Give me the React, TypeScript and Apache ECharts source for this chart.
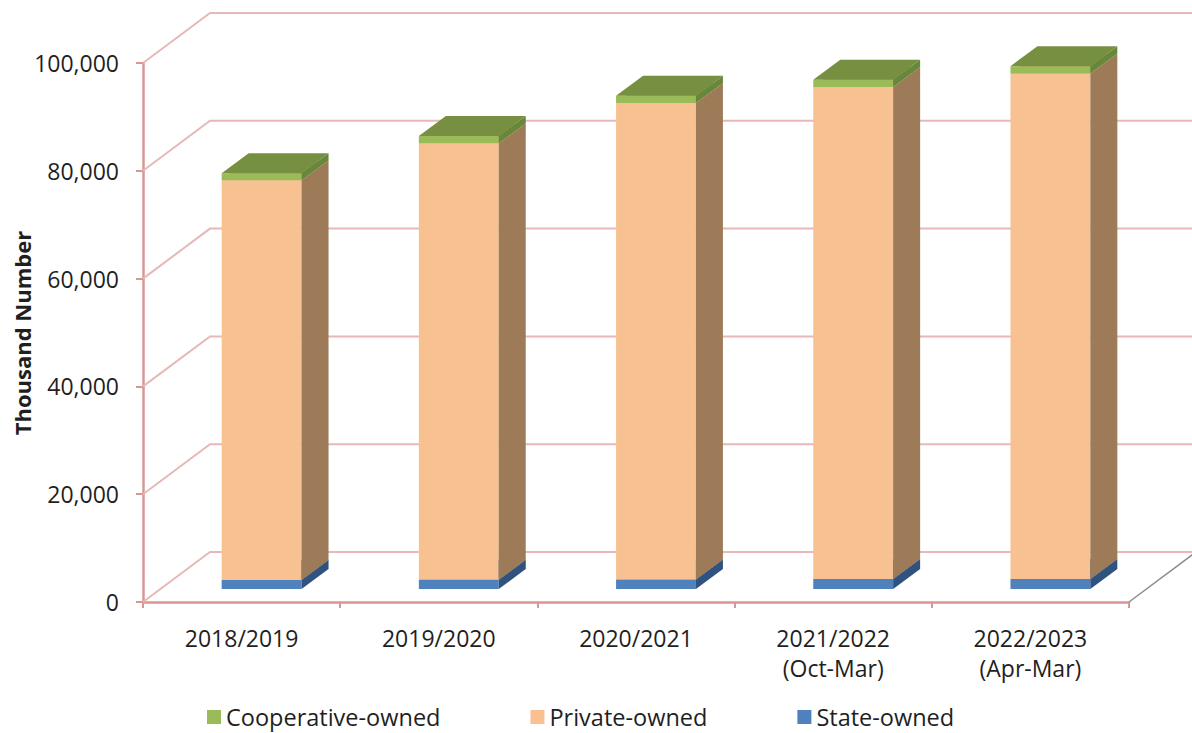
import React, { useEffect, useRef } from "react";
import * as echarts from "echarts";

const categories = ["2018/2019", "2019/2020", "2020/2021", "2021/2022\n(Oct-Mar)", "2022/2023\n(Apr-Mar)"];
const stateOwned = [1650, 1700, 1750, 1850, 1850];
const privateOwned = [74200, 81000, 88400, 91300, 93800];
const cooperativeOwned = [1300, 1350, 1350, 1350, 1350];
const yTicks = [0, 20000, 40000, 60000, 80000, 100000];
const yTitle = "Thousand Number";

const FONT = "'Open Sans', 'Noto Sans', sans-serif";
const DX = 27, DY = 20; // bar depth
const OFFX = 20, OFFY = 13; // bar front offset from front plane
const WDX = 67, WDY = 50; // wall depth

function boxRenderer(front: string, side: string, top: string) {
  return (params: any, api: any) => {
    const cat = api.value(0);
    const lo = api.value(1);
    const hi = api.value(2);
    const cb = api.coord([cat, lo]);
    const ct = api.coord([cat, hi]);
    const band = api.size([1, 0])[0];
    const w = band * 0.405;
    const x0 = cb[0] + OFFX - w / 2;
    const x1 = x0 + w;
    const yb = cb[1] - OFFY;
    const yt = ct[1] - OFFY;
    return {
      type: "group",
      children: [
        { type: "rect", shape: { x: x0, y: yt, width: w, height: yb - yt }, style: { fill: front } },
        {
          type: "polygon",
          shape: { points: [[x1, yb], [x1 + DX, yb - DY], [x1 + DX, yt - DY], [x1, yt]] },
          style: { fill: side },
        },
        {
          type: "polygon",
          shape: { points: [[x0, yt], [x1, yt], [x1 + DX, yt - DY], [x0 + DX, yt - DY]] },
          style: { fill: top },
        },
      ],
    };
  };
}

function stackData(base: number[], vals: number[]) {
  return vals.map((v, i) => [i, base[i], base[i] + v]);
}

export default function App() {
  const ref = useRef<HTMLDivElement>(null);
  useEffect(() => {
    if (!ref.current) return;
    const chart = echarts.init(ref.current, undefined, { renderer: "svg" });
    const zeros = categories.map(() => 0);
    const afterState = stateOwned.map((v, i) => zeros[i] + v);
    const afterPrivate = privateOwned.map((v, i) => afterState[i] + v);

    const axisColor = "#D99694";
    const wallColor = "#E6B9B8";

    chart.setOption({
      animation: false,
      grid: { left: 143, right: 63, top: 63, bottom: 131, containLabel: false, outerBoundsMode: "none" },
      graphic: [
        {
          type: "text",
          x: 22,
          y: 333,
          rotation: Math.PI / 2,
          style: {
            text: yTitle,
            fontFamily: FONT,
            fontSize: 22,
            fontWeight: "bold",
            fill: "#1F1F1F",
            align: "center",
            verticalAlign: "middle",
          },
        },
      ],
      legend: {
        data: ["Cooperative-owned", "Private-owned", "State-owned"],
        left: 207,
        top: 704,
        icon: "rect",
        itemWidth: 14,
        itemHeight: 14,
        itemGap: 90,
        padding: 0,
        textStyle: { fontFamily: FONT, fontSize: 23.5, color: "#1F1F1F", lineHeight: 26 },
      },
      xAxis: {
        type: "category",
        data: categories,
        boundaryGap: true,
        axisLine: { lineStyle: { color: axisColor, width: 2.5 } },
        axisTick: { show: true, length: 6, lineStyle: { color: axisColor, width: 2 } },
        axisLabel: { fontFamily: FONT, fontSize: 23, color: "#1F1F1F", lineHeight: 30, margin: 21 },
        splitLine: { show: false },
      },
      yAxis: {
        type: "value",
        min: 0,
        max: 100000,
        interval: 20000,
        axisLine: { show: true, lineStyle: { color: axisColor, width: 2.5 } },
        axisTick: { show: true, length: 7, lineStyle: { color: axisColor, width: 2 } },
        axisLabel: {
          fontFamily: FONT,
          fontSize: 23,
          color: "#1F1F1F",
          margin: 24,
          formatter: (v: number) => v.toLocaleString("en-US"),
        },
        splitLine: { show: false },
      },
      series: [
        {
          type: "custom",
          name: "walls",
          silent: true,
          data: yTicks.map((v) => [0, v]),
          encode: { x: 0, y: 1 },
          renderItem: (params: any, api: any) => {
            const cs = params.coordSys;
            const y = api.coord([0, api.value(1)])[1];
            const children: any[] = [
              {
                type: "polyline",
                shape: { points: [[cs.x, y], [cs.x + WDX, y - WDY], [cs.x + cs.width + WDX + 10, y - WDY]] },
                style: { stroke: wallColor, lineWidth: 2, fill: "none" },
              },
            ];
            if (api.value(1) === 0) {
              children.push({
                type: "line",
                shape: { x1: cs.x + cs.width, y1: y, x2: cs.x + cs.width + WDX, y2: y - WDY },
                style: { stroke: "#8C8C8C", lineWidth: 1.5 },
              });
            }
            return { type: "group", children };
          },
          z: 1,
        },
        {
          type: "custom",
          name: "State-owned",
          itemStyle: { color: "#4F81BD" },
          data: stackData(zeros, stateOwned),
          encode: { x: 0, y: [1, 2] },
          renderItem: boxRenderer("#4F81BD", "#30527F", "#3E6AA0"),
          z: 2,
        },
        {
          type: "custom",
          name: "Private-owned",
          itemStyle: { color: "#FAC090" },
          data: stackData(afterState, privateOwned),
          encode: { x: 0, y: [1, 2] },
          renderItem: boxRenderer("#F8C192", "#9E7B58", "#D9A070"),
          z: 2,
        },
        {
          type: "custom",
          name: "Cooperative-owned",
          itemStyle: { color: "#9BBB59" },
          data: stackData(afterPrivate, cooperativeOwned),
          encode: { x: 0, y: [1, 2] },
          renderItem: boxRenderer("#9BBB59", "#67883A", "#778F40"),
          z: 2,
        },
      ],
    });
    return () => chart.dispose();
  }, []);
  return <div ref={ref} style={{ position: "fixed", left: 0, top: 0, width: 1192, height: 733, background: "#fff" }} />;
}
